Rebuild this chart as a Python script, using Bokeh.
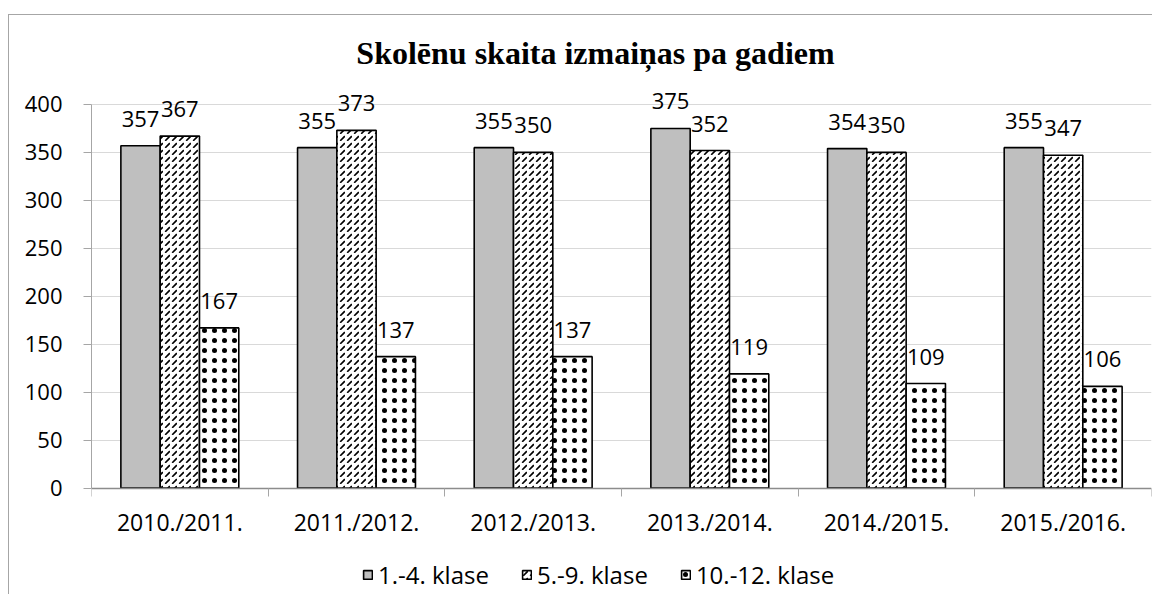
from bokeh.plotting import figure
from bokeh.models import Range1d, FixedTicker, Legend, LegendItem, ColumnDataSource, Label
from bokeh.transform import dodge
from bokeh.core.properties import value
from bokeh.embed import file_html
from bokeh.resources import INLINE

# ---- data ----
categories = ["2010./2011.", "2011./2012.", "2012./2013.", "2013./2014.", "2014./2015.", "2015./2016."]
series_names = ["1.-4. klase", "5.-9. klase", "10.-12. klase"]
klase_1_4 = [357, 355, 355, 375, 354, 355]
klase_5_9 = [367, 373, 350, 352, 350, 347]
klase_10_12 = [167, 137, 137, 119, 109, 106]
y_ticks = [0, 50, 100, 150, 200, 250, 300, 350, 400]
title_text = "Skolēnu skaita izmaiņas pa gadiem"

n = len(categories)
centers = [i + 0.5 for i in range(n)]
bounds = [float(i) for i in range(n + 1)]

src = ColumnDataSource(dict(
    x=centers,
    a=klase_1_4, b=klase_5_9, c=klase_10_12,
    la=[str(v) for v in klase_1_4],
    lb=[str(v) for v in klase_5_9],
    lc=[str(v) for v in klase_10_12],
))

FONT = "Open Sans"
FS = "22px"
BW = 0.2225
Y_AXIS_MAX = 400
# plot range extends beyond the axis so the title, tick labels and legend fit inside
Y_RANGE_TOP = 492.8
Y_RANGE_BOTTOM = -112.1

p = figure(width=1144, height=580, x_range=Range1d(0, n),
           y_range=Range1d(Y_RANGE_BOTTOM, Y_RANGE_TOP), title=None,
           output_backend="svg", toolbar_location=None,
           min_border_left=82, min_border_right=2, min_border_top=0, min_border_bottom=0)
p.margin = (14, 0, 0, 8)
p.styles = {"border-top": "1px solid #a6a6a6", "border-left": "1px solid #a6a6a6"}
p.outline_line_color = None
p.background_fill_color = "white"
p.border_fill_color = "white"

# bars
r1 = p.vbar(x=dodge("x", -BW, range=p.x_range), top="a", width=BW, source=src,
            fill_color="#bfbfbf", line_color="black", line_width=1.6)
r2 = p.vbar(x=dodge("x", 0, range=p.x_range), top="b", width=BW, source=src,
            fill_color="white", line_color="black", line_width=1.6,
            hatch_pattern="right_diagonal_dash", hatch_color="black", hatch_scale=7, hatch_weight=1.6)
r3 = p.vbar(x=dodge("x", BW, range=p.x_range), top="c", width=BW, source=src,
            fill_color="white", line_color="black", line_width=1.6,
            hatch_pattern="dot", hatch_color="black", hatch_scale=10, hatch_weight=1.1)

# data labels
for off, col, ycol in [(-BW, "la", "a"), (0, "lb", "b"), (BW, "lc", "c")]:
    p.text(x=dodge("x", off, range=p.x_range), y=ycol, text=col, source=src,
           text_align="center", text_baseline="middle", y_offset=-27,
           text_font=value(FONT), text_font_size=FS, text_color="black")

# axes
p.yaxis.ticker = FixedTicker(ticks=y_ticks)
p.yaxis.bounds = (0, Y_AXIS_MAX)
p.yaxis.axis_line_color = "#a6a6a6"
p.yaxis.major_tick_line_color = "#a6a6a6"
p.yaxis.major_tick_out = 8
p.yaxis.major_tick_in = 0
p.yaxis.minor_tick_line_color = None
p.yaxis.major_label_standoff = 21
p.yaxis.major_label_text_font = FONT
p.yaxis.major_label_text_font_size = FS
p.yaxis.major_label_text_color = "black"

p.xaxis.fixed_location = 0
p.xaxis.ticker = FixedTicker(ticks=centers, minor_ticks=bounds)
p.xaxis.major_label_overrides = {c: cat for c, cat in zip(centers, categories)}
p.xaxis.axis_line_color = "#8c8c8c"
p.xaxis.axis_line_width = 1.5
p.xaxis.major_tick_line_color = None
p.xaxis.major_tick_out = 0
p.xaxis.major_tick_in = 0
p.xaxis.minor_tick_line_color = "#a6a6a6"
p.xaxis.minor_tick_out = 8
p.xaxis.minor_tick_in = 0
p.xaxis.major_label_standoff = 10
p.xaxis.major_label_text_font = FONT
p.xaxis.major_label_text_font_size = "23px"
p.xaxis.major_label_text_color = "black"

p.xgrid.visible = False
p.ygrid.grid_line_color = "#d9d9d9"
p.ygrid.ticker = FixedTicker(ticks=y_ticks)

# title (placed in screen units relative to the plot area)
p.add_layout(Label(x=504, y=543, x_units="screen", y_units="screen", text=title_text,
                   text_align="center", text_baseline="middle",
                   text_font="Liberation Serif", text_font_size="32px",
                   text_font_style="bold", text_color="black"))

legend = Legend(items=[LegendItem(label=series_names[0], renderers=[r1]),
                       LegendItem(label=series_names[1], renderers=[r2]),
                       LegendItem(label=series_names[2], renderers=[r3])],
                orientation="horizontal", location=(267, 0),
                glyph_width=11, glyph_height=11, label_standoff=5, spacing=32,
                label_text_font=FONT, label_text_font_size="24px", label_text_color="black",
                border_line_alpha=0, background_fill_alpha=0,
                padding=4, margin=0)
p.add_layout(legend, "center")

open("out.html", "w").write(file_html(p, INLINE))
